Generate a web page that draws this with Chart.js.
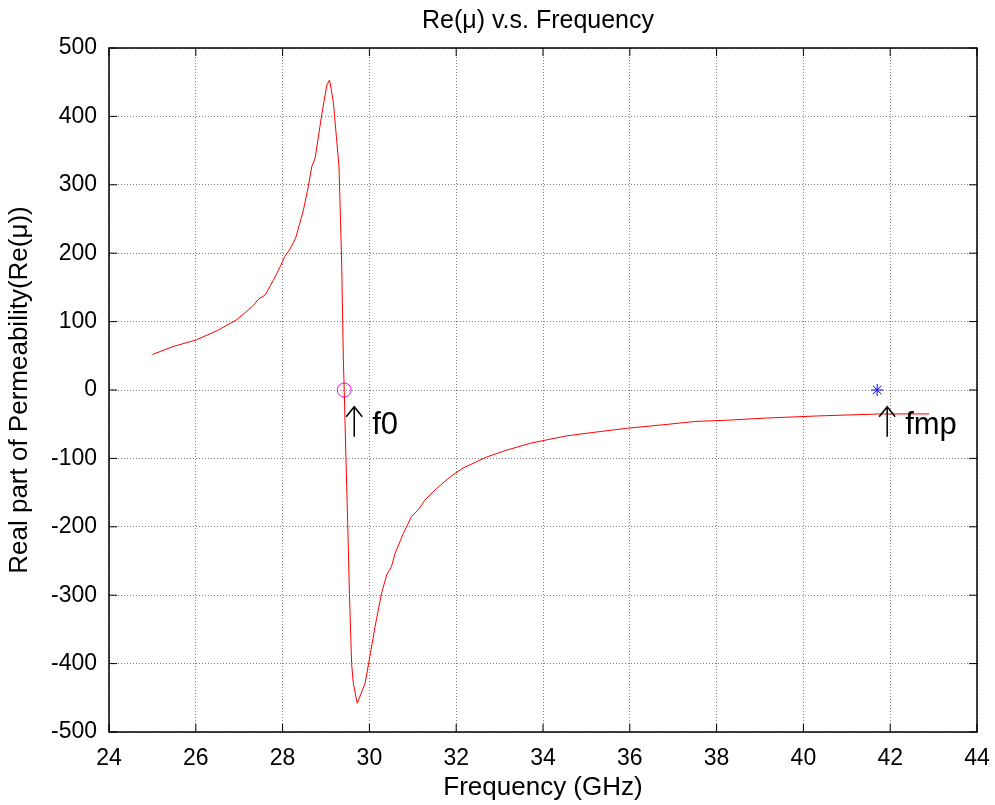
<!DOCTYPE html>
<html>
<head>
<meta charset="utf-8">
<title>Re(μ) v.s. Frequency</title>
<script src="https://cdn.jsdelivr.net/npm/chart.js"></script>
<style>
  body { margin: 0; background: #fff; }
</style>
</head>
<body>
<canvas id="muChart" width="995" height="805"></canvas>
<script>
// frequency (GHz) and real part of permeability
var freq = [25.0, 25.5, 26.0, 26.5, 26.95, 27.3, 27.45, 27.6, 27.8, 27.95, 28.05, 28.17, 28.3, 28.48, 28.59, 28.67, 28.75, 28.9, 29.02, 29.08, 29.12, 29.17, 29.24, 29.3, 29.36, 29.4, 29.42, 29.46, 29.5, 29.54, 29.59, 29.63, 29.72, 29.9, 30.01, 30.13, 30.28, 30.4, 30.51, 30.59, 30.78, 30.97, 31.13, 31.28, 31.55, 31.86, 32.16, 32.7, 33.16, 33.7, 34.08, 34.55, 35.16, 35.93, 36.9, 37.5, 38.3, 39.15, 40.3, 41.77, 42.9];
var reMu = [52, 64, 73, 87, 103, 122, 133, 139, 162, 181, 195, 206, 222, 263, 297, 326, 339, 402, 446, 453, 440, 420, 370, 326, 190, 44, 0, -100, -195, -297, -400, -429, -458, -429, -390, -346, -297, -270, -258, -239, -210, -185, -175, -161, -144, -127, -114, -98, -88, -78, -73, -67, -62, -56, -50, -46, -44, -41, -38, -35, -35];

// marked points and their labels
var f0 = [29.42, 0];
var fmp = [41.7, 0];
var markLabels = ['f0', 'fmp'];
var labelY = -64;

var xTicks = [24, 26, 28, 30, 32, 34, 36, 38, 40, 42, 44];
var yTicks = [-500, -400, -300, -200, -100, 0, 100, 200, 300, 400, 500];

var chartTitle = 'Re(\u03bc) v.s. Frequency';

var curve = [];
for (var i = 0; i < freq.length; i++) {
  curve.push({ x: freq[i], y: reMu[i] });
}

var fontFam = '"Liberation Sans", Arial, sans-serif';

// up-arrow plus text, like matlab's text(x,y,'\uparrow f0')
function arrowLabel(ctx, x, y, txt) {
  ctx.beginPath();
  ctx.moveTo(x + 10, y + 3);
  ctx.lineTo(x + 10, y - 27);
  ctx.moveTo(x + 2, y - 17);
  ctx.lineTo(x + 10, y - 27);
  ctx.lineTo(x + 18, y - 17);
  ctx.stroke();
  ctx.fillText(txt, x + 28, y);
}

// box round the plot with inward ticks on all four sides, the title over the axes, and the f0 / fmp labels
var matlabAxes = {
  id: 'matlabAxes',
  afterDatasetsDraw: function(chart) {
    var ctx = chart.ctx;
    var a = chart.chartArea;
    var xs = chart.scales.x, ys = chart.scales.y;
    var len = 8;
    ctx.save();
    ctx.strokeStyle = '#000';
    ctx.lineWidth = 1.5;
    ctx.strokeRect(a.left, a.top, a.right - a.left, a.bottom - a.top);
    ctx.lineWidth = 1;
    ctx.beginPath();
    xTicks.forEach(function(t) {
      var px = xs.getPixelForValue(t);
      ctx.moveTo(px, a.bottom); ctx.lineTo(px, a.bottom - len);
      ctx.moveTo(px, a.top); ctx.lineTo(px, a.top + len);
    });
    yTicks.forEach(function(t) {
      var py = ys.getPixelForValue(t);
      ctx.moveTo(a.left, py); ctx.lineTo(a.left + len, py);
      ctx.moveTo(a.right, py); ctx.lineTo(a.right - len, py);
    });
    ctx.stroke();

    ctx.fillStyle = '#000';
    ctx.font = '25px ' + fontFam;
    ctx.textAlign = 'center';
    ctx.textBaseline = 'middle';
    ctx.fillText(chartTitle, (a.left + a.right) / 2 - 5, a.top - 27);

    ctx.lineWidth = 1.5;
    ctx.font = '31px ' + fontFam;
    ctx.textAlign = 'left';
    ctx.textBaseline = 'alphabetic';
    arrowLabel(ctx, xs.getPixelForValue(f0[0]), ys.getPixelForValue(labelY), markLabels[0]);
    arrowLabel(ctx, xs.getPixelForValue(fmp[0]), ys.getPixelForValue(labelY), markLabels[1]);
    ctx.restore();
  }
};

var gridStyle = {
  color: 'rgba(0,0,0,0.5)',
  lineWidth: 1,
  drawTicks: false
};

new Chart(document.getElementById('muChart').getContext('2d'), {
  type: 'line',
  data: {
    datasets: [
      {
        label: 'Re(mu)',
        data: curve,
        borderColor: '#ff0000',
        borderWidth: 1,
        pointRadius: 0,
        tension: 0,
        fill: false
      },
      {
        label: 'f0',
        data: [{ x: f0[0], y: f0[1] }],
        showLine: false,
        pointStyle: 'circle',
        pointRadius: 7,
        pointBorderColor: '#ff00ff',
        pointBackgroundColor: 'rgba(0,0,0,0)',
        pointBorderWidth: 1
      },
      {
        label: 'fmp',
        data: [{ x: fmp[0], y: fmp[1] }],
        showLine: false,
        pointStyle: 'star',
        pointRadius: 6,
        pointBorderColor: '#0000ff',
        pointBackgroundColor: '#0000ff',
        pointBorderWidth: 1
      }
    ]
  },
  plugins: [matlabAxes],
  options: {
    responsive: false,
    animation: false,
    layout: { padding: { left: 0, right: 18, top: 48, bottom: 0 } },
    plugins: {
      legend: { display: false },
      tooltip: { enabled: false },
      title: { display: false }
    },
    scales: {
      x: {
        type: 'linear',
        min: 24,
        max: 44,
        afterFit: function(s) { s.height = 73; s.paddingLeft = 0; s.paddingRight = 0; },
        afterBuildTicks: function(s) { s.ticks = xTicks.map(function(v) { return { value: v }; }); },
        grid: Object.assign({}, gridStyle),
        border: { display: false, dash: [1, 2] },
        ticks: { color: '#000', padding: 13, maxRotation: 0, font: { family: fontFam, size: 23 } },
        title: {
          display: true,
          text: 'Frequency (GHz)',
          color: '#000',
          font: { family: fontFam, size: 26 },
          padding: { top: 0, bottom: 2 }
        }
      },
      y: {
        type: 'linear',
        min: -500,
        max: 500,
        afterFit: function(s) { s.width = 109; s.paddingTop = 0; s.paddingBottom = 0; },
        afterBuildTicks: function(s) { s.ticks = yTicks.map(function(v) { return { value: v }; }); },
        grid: Object.assign({}, gridStyle),
        border: { display: false, dash: [1, 2] },
        ticks: { color: '#000', padding: 12, font: { family: fontFam, size: 23 } },
        title: {
          display: true,
          text: 'Real part of Permeability(Re(\u03bc))',
          color: '#000',
          font: { family: fontFam, size: 26 },
          padding: { top: 4, bottom: 0 }
        }
      }
    }
  }
});
</script>
</body>
</html>
